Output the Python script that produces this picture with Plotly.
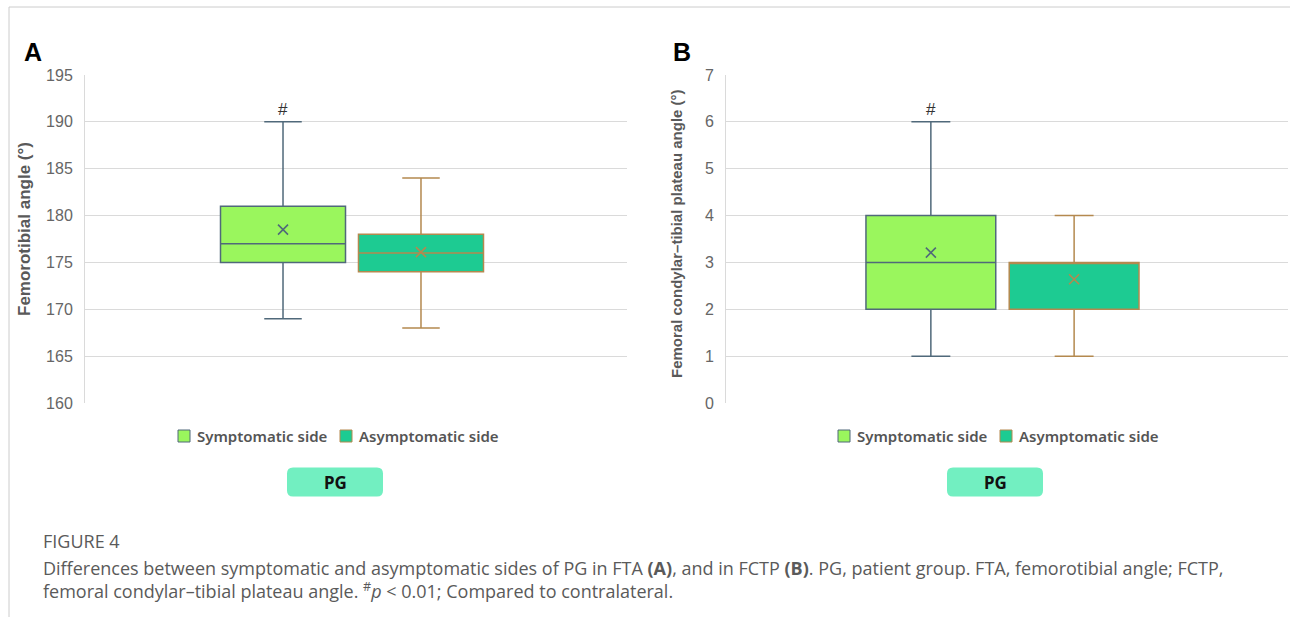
import plotly.graph_objects as go

W, H = 1290, 617

# ---------------- data ----------------
categories = ["Symptomatic side", "Asymptomatic side"]
group_label = "PG"

# Panel A: Femorotibial angle (FTA)
fta_lower = [169, 168]
fta_q1 = [175, 174]
fta_median = [177, 176]
fta_q3 = [181, 178]
fta_upper = [190, 184]
fta_mean = [178.5, 176.1]

# Panel B: Femoral condylar-tibial plateau angle (FCTP)
fctp_lower = [1, 1]
fctp_q1 = [2, 2]
fctp_median = [3, 3]
fctp_q3 = [4, 3]
fctp_upper = [6, 4]
fctp_mean = [3.21, 2.64]

fta_ticks = [160, 165, 170, 175, 180, 185, 190, 195]
fctp_ticks = [0, 1, 2, 3, 4, 5, 6, 7]

fill_colors = ["#9AF65D", "#1DCB92"]
line_colors = ["#50697A", "#B4894F"]

caption_head = "FIGURE 4"
caption_l1 = ("Differences between symptomatic and asymptomatic sides of PG in FTA <b>(A)</b>, "
              "and in FCTP <b>(B)</b>. PG, patient group. FTA, femorotibial angle; FCTP,")
caption_l2 = ("femoral condylar\u2013tibial plateau angle. <sup>#</sup><i>p</i> &lt; 0.01; "
              "Compared to contralateral.")


def px(x):
    return x / W


def py(y):
    return 1 - y / H


fig = go.Figure()

panels = [
    dict(xa="x", ya="y", lo=fta_lower, q1=fta_q1, me=fta_median, q3=fta_q3,
         up=fta_upper, mean=fta_mean),
    dict(xa="x2", ya="y2", lo=fctp_lower, q1=fctp_q1, me=fctp_median, q3=fctp_q3,
         up=fctp_upper, mean=fctp_mean),
]

for p in panels:
    for i, cat in enumerate(categories):
        fig.add_trace(go.Box(
            x=[cat], q1=[p["q1"][i]], median=[p["me"][i]], q3=[p["q3"][i]],
            lowerfence=[p["lo"][i]], upperfence=[p["up"][i]],
            name=cat, fillcolor=fill_colors[i],
            line=dict(color=line_colors[i], width=1.5),
            whiskerwidth=0.3, boxpoints=False, showlegend=False,
            xaxis=p["xa"], yaxis=p["ya"], hoverinfo="skip",
        ))
        fig.add_trace(go.Scatter(
            x=[cat], y=[p["mean"][i]], mode="markers",
            marker=dict(symbol="x-thin", size=10,
                        line=dict(color=line_colors[i], width=1.6)),
            showlegend=False, xaxis=p["xa"], yaxis=p["ya"], hoverinfo="skip",
        ))

# significance marks
fig.add_annotation(x=categories[0], y=fta_upper[0], xref="x", yref="y", text="#",
                   showarrow=False, yanchor="bottom", yshift=1,
                   font=dict(family="Liberation Sans", size=17, color="#333333"))
fig.add_annotation(x=categories[0], y=fctp_upper[0], xref="x2", yref="y2", text="#",
                   showarrow=False, yanchor="bottom", yshift=1,
                   font=dict(family="Liberation Sans", size=17, color="#333333"))

tick_font = dict(family="Liberation Sans", size=16, color="#666666")
yaxis_common = dict(showgrid=True, gridcolor="#DADADA", gridwidth=1, zeroline=False,
                    showline=True, linecolor="#DADADA", linewidth=1, ticks="",
                    tickfont=tick_font, ticklabelstandoff=8, automargin=False)
xaxis_common = dict(showgrid=False, zeroline=False, showline=False, showticklabels=False,
                    ticks="", type="category", automargin=False)

fig.update_layout(
    width=W, height=H, margin=dict(l=0, r=0, t=0, b=0),
    paper_bgcolor="white", plot_bgcolor="white",
    boxmode="overlay", boxgap=0.094, boxgroupgap=0,
    xaxis=dict(domain=[px(85), px(627)], range=[-1.435, 2.493], anchor="y", **xaxis_common),
    yaxis=dict(domain=[py(403), py(75)], range=[160, 195], tickvals=fta_ticks,
               anchor="x", **yaxis_common),
    xaxis2=dict(domain=[px(726), px(1288)], range=[-1.43, 2.493], anchor="y2", **xaxis_common),
    yaxis2=dict(domain=[py(403), py(75)], range=[0, 7], tickvals=fctp_ticks,
                anchor="x2", **yaxis_common),
)

# panel letters
for letter, x in [("A", 22), ("B", 671)]:
    fig.add_annotation(x=px(x), y=py(52), xref="paper", yref="paper", text="<b>%s</b>" % letter,
                       showarrow=False, xanchor="left", yanchor="middle",
                       font=dict(family="Liberation Sans", size=25, color="#000000"))

# y-axis titles
fig.add_annotation(x=px(24), y=py(229), xref="paper", yref="paper",
                   text="<b>Femorotibial angle (\u00b0)</b>", textangle=-90, showarrow=False,
                   xanchor="center", yanchor="middle",
                   font=dict(family="Liberation Sans", size=17, color="#595959"))
fig.add_annotation(x=px(676), y=py(234), xref="paper", yref="paper",
                   text="<b>Femoral condylar\u2013tibial plateau angle (\u00b0)</b>", textangle=-90,
                   showarrow=False, xanchor="center", yanchor="middle",
                   font=dict(family="Liberation Sans", size=15, color="#595959"))

# custom legends + PG category label boxes
legend_font = dict(family="Noto Sans", size=15, color="#555555", weight=600)
for off in [0, 660]:
    sq_x = [178 + off, 340 + off]
    txt_x = [195 + off, 357 + off]
    for i, cat in enumerate(categories):
        fig.add_shape(type="rect", xref="paper", yref="paper",
                      x0=px(sq_x[i]), x1=px(sq_x[i] + 12), y0=py(442), y1=py(430),
                      fillcolor=fill_colors[i], line=dict(color=line_colors[i], width=1))
        fig.add_annotation(x=px(txt_x[i]), y=py(436), xref="paper", yref="paper", text=cat,
                           showarrow=False, xanchor="left", yanchor="middle", font=legend_font)
    cx, cy = px(335 + off), py(482)
    hw, hh, r = 48, 14.5, 6
    path = (f"M {-hw + r},{-hh} L {hw - r},{-hh} Q {hw},{-hh} {hw},{-hh + r} "
            f"L {hw},{hh - r} Q {hw},{hh} {hw - r},{hh} L {-hw + r},{hh} "
            f"Q {-hw},{hh} {-hw},{hh - r} L {-hw},{-hh + r} Q {-hw},{-hh} {-hw + r},{-hh} Z")
    fig.add_shape(type="path", xref="paper", yref="paper", xsizemode="pixel", ysizemode="pixel",
                  xanchor=cx, yanchor=cy, path=path, fillcolor="#72EFC1",
                  line=dict(width=0), layer="below")
    fig.add_annotation(x=cx, y=cy, xref="paper", yref="paper", text="<b>%s</b>" % group_label,
                       showarrow=False, xanchor="center", yanchor="middle",
                       font=dict(family="Noto Sans", size=17, color="#111111"))

# page frame lines
fig.add_shape(type="line", xref="paper", yref="paper", x0=px(9), x1=1, y0=py(7), y1=py(7),
              line=dict(color="#CCCCCC", width=1))
fig.add_shape(type="line", xref="paper", yref="paper", x0=px(9), x1=px(9), y0=py(7), y1=0,
              line=dict(color="#CCCCCC", width=1))

# caption
cap_font = dict(family="Open Sans", size=18, color="#5A5A5A")
fig.add_annotation(x=px(41), y=py(541), xref="paper", yref="paper", text=caption_head,
                   showarrow=False, xanchor="left", yanchor="middle", font=cap_font)
fig.add_annotation(x=px(41), y=py(579), xref="paper", yref="paper",
                   text=caption_l1 + "<br>" + caption_l2, align="left",
                   showarrow=False, xanchor="left", yanchor="middle", font=cap_font)

fig.write_html("out.html", config={"displayModeBar": False},
               post_script="document.body.style.margin='0';document.body.style.overflow='hidden';")
